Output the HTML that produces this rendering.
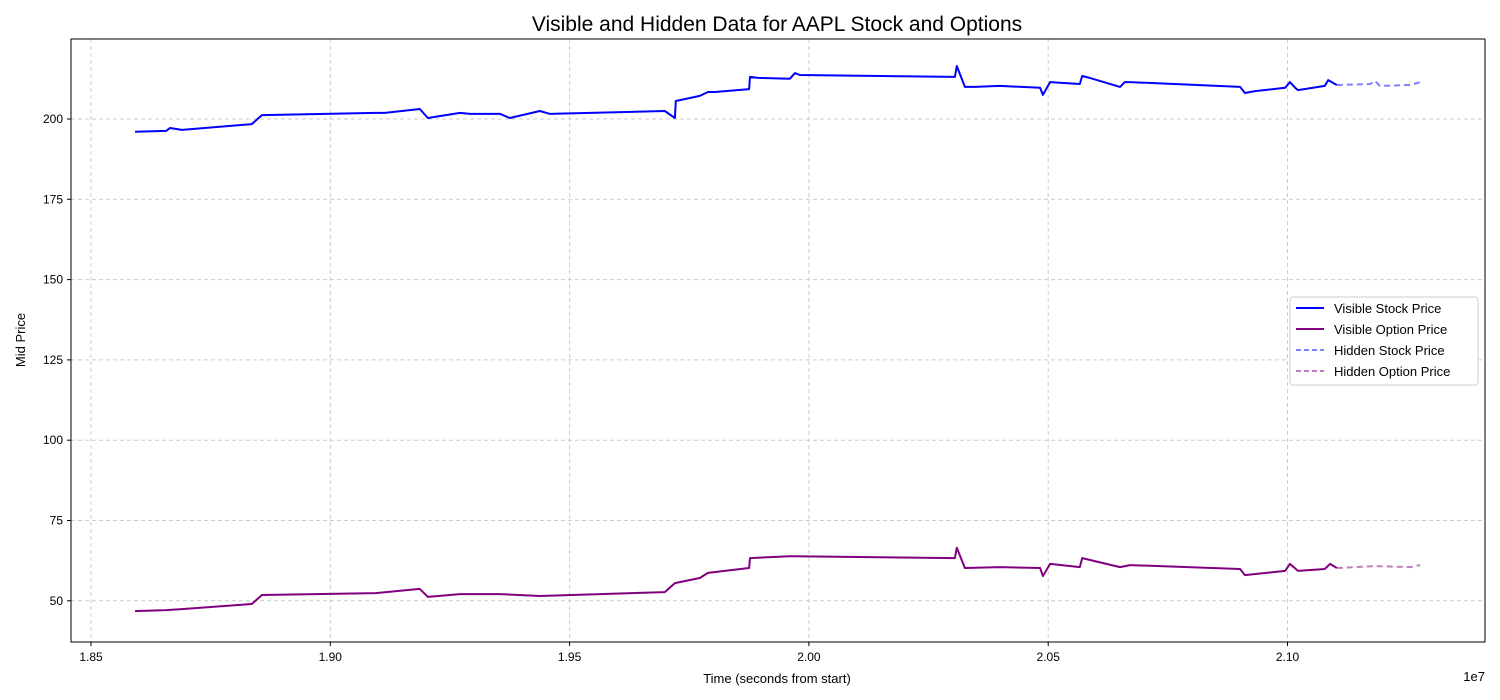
<!DOCTYPE html>
<html><head><meta charset="utf-8"><style>
body{margin:0;background:#fff;}
svg{display:block;font-family:"Liberation Sans","DejaVu Sans",sans-serif;}
</style></head><body>
<svg id="chart" width="1500" height="700">
<text x="777" y="31" font-size="21" text-anchor="middle">Visible and Hidden Data for AAPL Stock and Options</text>
<g id="grid"></g><g id="series"></g><g id="axes"></g>
<rect x="71" y="39" width="1414" height="603" fill="none" stroke="#000" stroke-width="1"/>
<text x="777" y="683" font-size="13" text-anchor="middle">Time (seconds from start)</text>
<text x="1485" y="681" font-size="13" text-anchor="end">1e7</text>
<text transform="translate(25,340) rotate(-90)" font-size="13" text-anchor="middle">Mid Price</text>
<g id="legend"></g>
</svg>
<script>
const xTicks=[1.85,1.90,1.95,2.00,2.05,2.10];
const yTicks=[50,75,100,125,150,175,200];
const stockT=[1.8592,1.8657,1.8665,1.8690,1.8836,1.8857,1.9095,1.9114,1.9187,1.9204,1.9271,1.9292,1.9355,1.9375,1.9438,1.9459,1.9699,1.9720,1.9722,1.9772,1.9789,1.9804,1.9875,1.9877,1.9894,1.9960,1.9971,1.9981,2.0305,2.0309,2.0326,2.0347,2.0399,2.0483,2.0489,2.0504,2.0566,2.0571,2.0587,2.0650,2.0660,2.0671,2.0901,2.0911,2.0932,2.0995,2.1005,2.1016,2.1022,2.1078,2.1085,2.1103];
const stockP=[196.0,196.3,197.2,196.6,198.4,201.2,201.9,201.9,203.1,200.3,201.9,201.6,201.6,200.3,202.5,201.6,202.5,200.3,205.6,207.2,208.4,208.4,209.3,213.1,212.8,212.5,214.3,213.7,213.1,216.5,210.0,210.0,210.3,209.7,207.5,211.5,210.9,213.4,212.8,210.0,211.5,211.5,210.0,208.1,208.7,209.7,211.5,209.7,209.0,210.3,212.1,210.6];
const hidStockT=[2.1103,2.1172,2.1183,2.1193,2.1256,2.1277];
const hidStockP=[210.6,210.9,211.8,210.3,210.6,211.5];
const optT=[1.8592,1.8657,1.8686,1.8836,1.8857,1.9095,1.9187,1.9204,1.9271,1.9355,1.9438,1.9699,1.9720,1.9772,1.9789,1.9875,1.9877,1.9960,1.9971,2.0305,2.0309,2.0326,2.0399,2.0483,2.0489,2.0504,2.0566,2.0571,2.0650,2.0671,2.0901,2.0911,2.0995,2.1005,2.1022,2.1078,2.1089,2.1103];
const optP=[46.8,47.1,47.4,49.0,51.8,52.4,53.7,51.2,52.1,52.1,51.5,52.7,55.5,57.1,58.7,60.2,63.3,63.9,63.9,63.3,66.5,60.2,60.5,60.2,57.7,61.5,60.5,63.3,60.5,61.1,59.9,58.0,59.3,61.5,59.3,59.9,61.5,60.2];
const hidOptT=[2.1103,2.1183,2.1256,2.1277];
const hidOptP=[60.2,60.8,60.5,61.1];
const X=t=>91+(t-1.85)/0.05*239.3;
const Y=p=>119-(p-200)/25*80.3;
const NS="http://www.w3.org/2000/svg";
function mk(tag,attrs,parent){const e=document.createElementNS(NS,tag);for(const k in attrs)e.setAttribute(k,attrs[k]);parent.appendChild(e);return e;}
const grid=document.getElementById('grid'),axes=document.getElementById('axes'),ser=document.getElementById('series'),leg=document.getElementById('legend');
xTicks.forEach(t=>{const x=X(t);
 const g=mk('line',{x1:x,x2:x,y1:39,y2:642,stroke:'#ccc','stroke-dasharray':'4,3'},grid);
 
 
 mk('line',{x1:x,x2:x,y1:642,y2:646,stroke:'#000'},axes);
 const l=mk('text',{x:x,y:661,'font-size':12,'text-anchor':'middle'},axes);l.textContent=t.toFixed(2);
 
 });
yTicks.forEach(v=>{const y=Y(v);
 const g=mk('line',{x1:71,x2:1485,y1:y,y2:y,stroke:'#ccc','stroke-dasharray':'4,3'},grid);
 
 
 mk('line',{x1:67,x2:71,y1:y,y2:y,stroke:'#000'},axes);
 const l=mk('text',{x:63,y:y+4,'font-size':12,'text-anchor':'end'},axes);l.textContent=v;
 
 });
function line(ts,ps,color,dash,name){
 const d=ts.map((t,i)=>(i?'L':'M')+X(t).toFixed(1)+','+Y(ps[i]).toFixed(1)).join('');
 const p=mk('path',{d:d,fill:'none',stroke:color,'stroke-width':dash?2:2,'stroke-linejoin':'round'},ser);
 if(dash)p.setAttribute('stroke-dasharray','6,4');
 
 }
line(stockT,stockP,'#0000ff',false,'visible-stock-line');
line(optT,optP,'#800080',false,'visible-option-line');
line(hidStockT,hidStockP,'rgba(0,0,255,0.5)',true,'hidden-stock-line');
line(hidOptT,hidOptP,'rgba(128,0,128,0.5)',true,'hidden-option-line');
mk('rect',{x:1290,y:297,width:188,height:88,rx:3,fill:'#fff',stroke:'#ccc'},leg);
const items=[['Visible Stock Price','#0000ff',false],['Visible Option Price','#800080',false],['Hidden Stock Price','rgba(0,0,255,0.5)',true],['Hidden Option Price','rgba(128,0,128,0.5)',true]];
items.forEach((it,i)=>{const y=308+i*21;
 const s=mk('line',{x1:1296,x2:1324,y1:y,y2:y,stroke:it[1],'stroke-width':2},leg);
 if(it[2])s.setAttribute('stroke-dasharray','5,3');
 const t=mk('text',{x:1334,y:y+5,'font-size':13},leg);t.textContent=it[0];
 
 });
</script>
</body></html>
